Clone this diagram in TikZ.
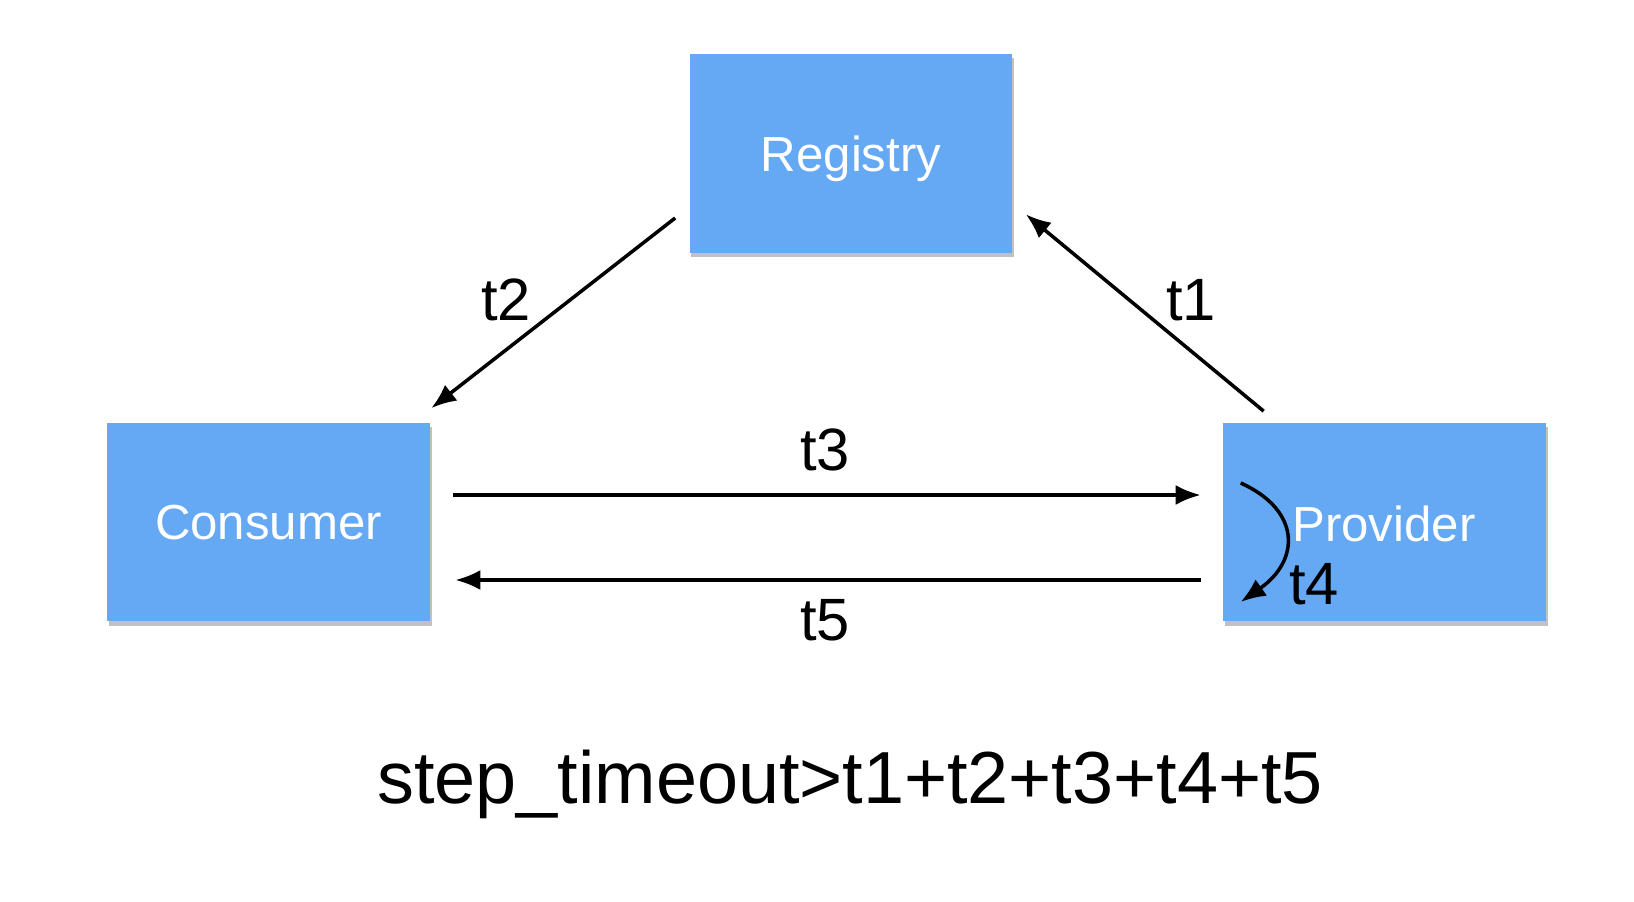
\documentclass[tikz,border=0pt]{standalone}
\usepackage{fontspec}
\setmainfont{Liberation Sans}
\usetikzlibrary{arrows.meta, shadows, calc}
\definecolor{boxblue}{HTML}{65A8F4}

\begin{document}
\begin{tikzpicture}[x=0.02cm, y=-0.02cm,
	box/.style={fill=boxblue, draw=none, minimum width=6.46cm, minimum height=3.98cm, text=white, text depth=0pt, font=\fontsize{28}{30}\selectfont, drop shadow={shadow xshift=1pt, shadow yshift=-2.5pt, opacity=0.35, fill=black!70}},
	flow/.style={-{Latex[length=0.5cm, width=0.4cm]}, line width=2pt},
	lbl/.style={font=\fontsize{34}{36}\selectfont}]
	\useasboundingbox (0,0) rectangle (1634,902);
	% boxes
	\node[box] (reg) at (851, 153.5) {Registry};
	\node[box] (cons) at (268.5, 522) {Consumer};
	\node[box] (prov) at (1384.5, 522) {};
	\node[text=white, font=\fontsize{28}{30}\selectfont] (provtext) at (1384, 524) {Provider};
	% end points of the arrows
	\coordinate (t2a) at ($(reg.west)+(-14,64.5)$);
	\coordinate (t2b) at ($(cons.north east)+(1,-14)$);
	\coordinate (t1a) at ($(prov.north west)+(41,-11)$);
	\coordinate (t1b) at ($(reg.south east)+(13,-39)$);
	\coordinate (t3a) at ($(cons.east)+(23,-27)$);
	\coordinate (t3b) at ($(prov.west)+(-22,-27)$);
	\coordinate (t5a) at ($(prov.west)+(-22,58)$);
	\coordinate (t5b) at ($(cons.east)+(25,58)$);
	\coordinate (t4a) at ($(prov.west)+(18,-39)$);
	\coordinate (t4b) at ($(prov.west)+(18,80)$);
	% arrows
	\draw[flow] (t2a) -- (t2b);
	\draw[flow] (t1a) -- (t1b);
	\draw[flow] (t3a) -- (t3b);
	\draw[flow] (t5a) -- (t5b);
	\draw[flow] (t4a) .. controls ($(t4a)+(60,27)$) and ($(t4b)+(60,-42)$) .. (t4b);
	% labels
	\node[lbl] (l2) at (506, 300) {t2};
	\node[lbl] (l1) at (1191, 300) {t1};
	\node[lbl] (l3) at (825, 450) {t3};
	\node[lbl] (l5) at (825, 620) {t5};
	\node[lbl] (l4) at (1314, 584) {t4};
	\node[font=\fontsize{42}{44}\selectfont] (sum) at (850, 784) {step\_timeout>t1+t2+t3+t4+t5};
\end{tikzpicture}
\end{document}
